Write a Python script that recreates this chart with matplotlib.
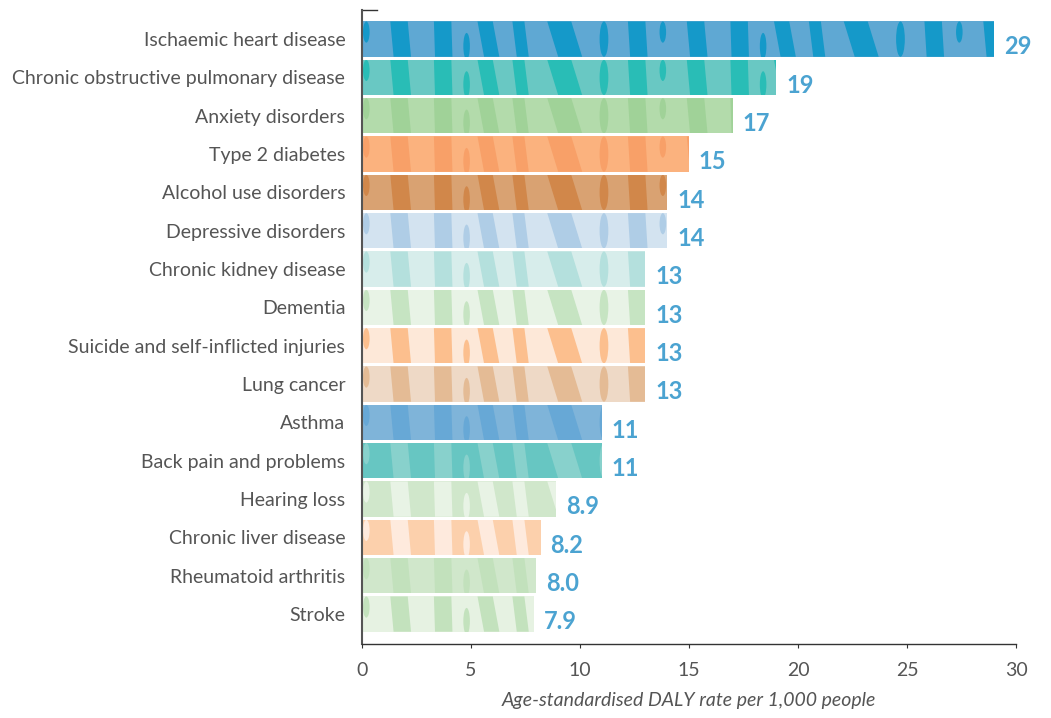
import numpy as np
import matplotlib.pyplot as plt
from matplotlib.patches import Polygon, Ellipse
from matplotlib.lines import Line2D

causes = [
    "Ischaemic heart disease",
    "Chronic obstructive pulmonary disease",
    "Anxiety disorders",
    "Type 2 diabetes",
    "Alcohol use disorders",
    "Depressive disorders",
    "Chronic kidney disease",
    "Dementia",
    "Suicide and self-inflicted injuries",
    "Lung cancer",
    "Asthma",
    "Back pain and problems",
    "Hearing loss",
    "Chronic liver disease",
    "Rheumatoid arthritis",
    "Stroke",
]
daly_rate = [29, 19, 17, 15, 14, 14, 13, 13, 13, 13, 11, 11, 8.9, 8.2, 8.0, 7.9]
value_labels = ["29", "19", "17", "15", "14", "14", "13", "13", "13", "13",
                "11", "11", "8.9", "8.2", "8.0", "7.9"]

# (base colour, stripe colour) per bar
base_colors = ["#5fa8d3", "#69c8c3", "#b3dbab", "#fbb27e", "#d9a272", "#d3e3f0",
               "#d7edeb", "#e8f3e6", "#fde8d8", "#eed9c6", "#7fb4d9", "#67c6c2",
               "#d0e7cb", "#fcd0ac", "#d0e7cb", "#e6f2e2"]
stripe_colors = ["#1599c9", "#29bdb6", "#a0d298", "#f8a068", "#d1874a", "#afcde6",
                 "#b4e0dd", "#c6e4c2", "#fcbf8e", "#e4bb95", "#67a8d6", "#88d1cc",
                 "#e8f3e5", "#feeadd", "#c2e1bc", "#c3e2bd"]

# texture: stripe (left edge at top, width, lean) in x units, repeated along the bar
stripe_set = [(1.3, 0.8, 0.15), (3.3, 0.8, 0.05), (5.3, 0.7, 0.3),
              (6.9, 0.55, 0.2), (8.5, 1.1, 0.5), (12.2, 0.8, 0.1)]
leaf_set = [(0.2, 0.3, 0.3, 0.6), (4.8, 0.7, 0.3, 0.75), (11.1, 0.5, 0.4, 1.0)]
period = 13.6

label_blue = "#4ba3d1"
text_grey = "#555555"

fig = plt.figure(figsize=(10.51, 7.18), dpi=100)
ax = fig.add_axes([0.3444, 0.1031, 0.6223, 0.883])

n = len(causes)
y = np.arange(n)
h = 0.92

bars = ax.barh(y, daly_rate, height=h, color=base_colors, edgecolor="none", zorder=1)

for i, bar in enumerate(bars):
    top = y[i] - h / 2
    bot = y[i] + h / 2
    for k in range(3):
        off = k * period
        for x0, w, lean in stripe_set:
            xs = x0 + off
            poly = Polygon([(xs, top), (xs + w, top), (xs + w + lean, bot), (xs + lean, bot)],
                           closed=True, facecolor=stripe_colors[i], edgecolor="none", zorder=2)
            ax.add_patch(poly)
            poly.set_clip_path(bar)
        for x0, yc, ew, eh in leaf_set:
            leaf = Ellipse((x0 + off, top + yc * h), ew, eh * h,
                           facecolor=stripe_colors[i], edgecolor="none", zorder=2)
            ax.add_patch(leaf)
            leaf.set_clip_path(bar)

    ax.text(daly_rate[i] + 0.45, y[i] + 0.2, value_labels[i], ha="left", va="center",
            fontsize=17, fontweight="bold", color=label_blue, family="Lato")

ax.set_ylim(n - 1 + 0.78, -0.76)
ax.set_xlim(0, 30)
ax.set_yticks(y)
ax.set_yticklabels(causes, fontsize=14, color=text_grey, family="Lato")
ax.tick_params(axis="y", length=0, pad=12)
ax.set_xticks([0, 5, 10, 15, 20, 25, 30])
ax.tick_params(axis="x", length=3, color="#333333", labelsize=14,
               labelcolor=text_grey, pad=10)
for lbl in ax.get_xticklabels():
    lbl.set_family("Lato")

ax.set_xlabel("Age-standardised DALY rate per 1,000 people", fontsize=14,
              style="italic", color=text_grey, family="Lato", labelpad=9)

for side in ["top", "right"]:
    ax.spines[side].set_visible(False)
ax.spines["left"].set_color("#555555")
ax.spines["left"].set_linewidth(1.5)
ax.spines["bottom"].set_color("#333333")
ax.spines["bottom"].set_linewidth(1)

# short cap at the top of the y axis
ax.add_line(Line2D([0, 0.023], [1, 1], transform=ax.transAxes, color="#333333",
                   linewidth=1, clip_on=False))

fig.savefig("out.png", dpi=100)
